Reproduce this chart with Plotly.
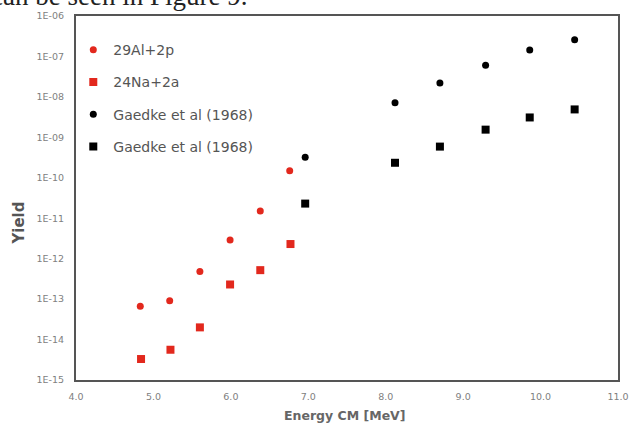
import plotly.graph_objects as go

# Centre-of-mass energies [MeV]
energy_al = [4.83, 5.21, 5.60, 5.99, 6.38, 6.76]
energy_na = [4.84, 5.22, 5.60, 5.99, 6.38, 6.77]
energy_gaedke = [6.96, 8.12, 8.70, 9.29, 9.86, 10.44]

# Yields
yield_al_2p = [6.7e-14, 9.1e-14, 4.8e-13, 2.9e-12, 1.5e-11, 1.5e-10]
yield_na_2a = [3.3e-15, 5.6e-15, 2.0e-14, 2.3e-13, 5.2e-13, 2.3e-12]
yield_gaedke_circ = [3.2e-10, 7.2e-9, 2.2e-8, 6.1e-8, 1.44e-7, 2.6e-7]
yield_gaedke_sq = [2.3e-11, 2.35e-10, 5.9e-10, 1.55e-9, 3.1e-9, 4.9e-9]

series_names = ["29Al+2p", "24Na+2a", "Gaedke et al (1968)", "Gaedke et al (1968)"]

x_ticks = [4, 5, 6, 7, 8, 9, 10, 11]
x_ticktext = ["4.0", "5.0", "6.0", "7.0", "8.0", "9.0", "10.0", "11.0"]
y_exponents = [-15, -14, -13, -12, -11, -10, -9, -8, -7, -6]
y_ticks = [10.0 ** e for e in y_exponents]
y_ticktext = ["1E-%02d" % (-e) for e in y_exponents]

RED = "#e2281d"
BLACK = "#000000"

fig = go.Figure()
specs = [
    (energy_al, yield_al_2p, "circle", RED, 7),
    (energy_na, yield_na_2a, "square", RED, 8),
    (energy_gaedke, yield_gaedke_circ, "circle", BLACK, 7),
    (energy_gaedke, yield_gaedke_sq, "square", BLACK, 8),
]
for i, (xs, ys, sym, col, size) in enumerate(specs):
    fig.add_trace(go.Scatter(
        x=xs, y=ys, mode="markers", name=series_names[i],
        legendgroup="g%d" % i,
        marker=dict(symbol=sym, color=col, size=size, line=dict(width=0)),
    ))

tick_font = dict(family="DejaVu Sans", size=9.5, color="#808080")

fig.update_layout(
    width=630, height=424,
    margin=dict(l=76, r=12, t=16, b=44),
    paper_bgcolor="white", plot_bgcolor="white",
    showlegend=True,
    legend=dict(
        x=-0.005, y=0.95, xanchor="left", yanchor="top",
        bgcolor="rgba(0,0,0,0)",
        font=dict(family="DejaVu Sans", size=14, color="#555555"),
        tracegroupgap=11, itemwidth=30,
    ),
    xaxis=dict(
        range=[4, 11], tickvals=x_ticks, ticktext=x_ticktext,
        showgrid=False, zeroline=False, automargin=False,
        showline=True, linecolor="#555555", linewidth=2, mirror=True,
        ticks="", ticklabelstandoff=7, tickfont=tick_font,
    ),
    yaxis=dict(
        type="log", range=[-15, -6], tickvals=y_ticks, ticktext=y_ticktext,
        showgrid=False, zeroline=False, automargin=False,
        showline=True, linecolor="#555555", linewidth=2, mirror=True,
        ticks="", ticklabelstandoff=8, tickfont=tick_font,
    ),
)

# Axis titles
fig.add_annotation(
    text="Energy CM [MeV]", xref="paper", yref="paper", x=0.497, y=0.0,
    xanchor="center", yanchor="middle", yshift=-35, showarrow=False,
    font=dict(family="DejaVu Sans", size=12.5, color="#666666", weight="bold"),
)
fig.add_annotation(
    text="Yield", xref="paper", yref="paper", x=-0.105, y=0.43,
    xanchor="center", yanchor="middle", textangle=-90, showarrow=False,
    font=dict(family="DejaVu Sans", size=15, color="#555555", weight="bold"),
)

# Tail of the running text above the figure
fig.add_annotation(
    text="can be seen in Figure 9.", xref="paper", yref="paper",
    x=0.32, y=1.0, xanchor="right", yanchor="bottom", yshift=3,
    showarrow=False, font=dict(family="Liberation Serif", size=27, color="#222222"),
)

fig.write_html("out.html")
